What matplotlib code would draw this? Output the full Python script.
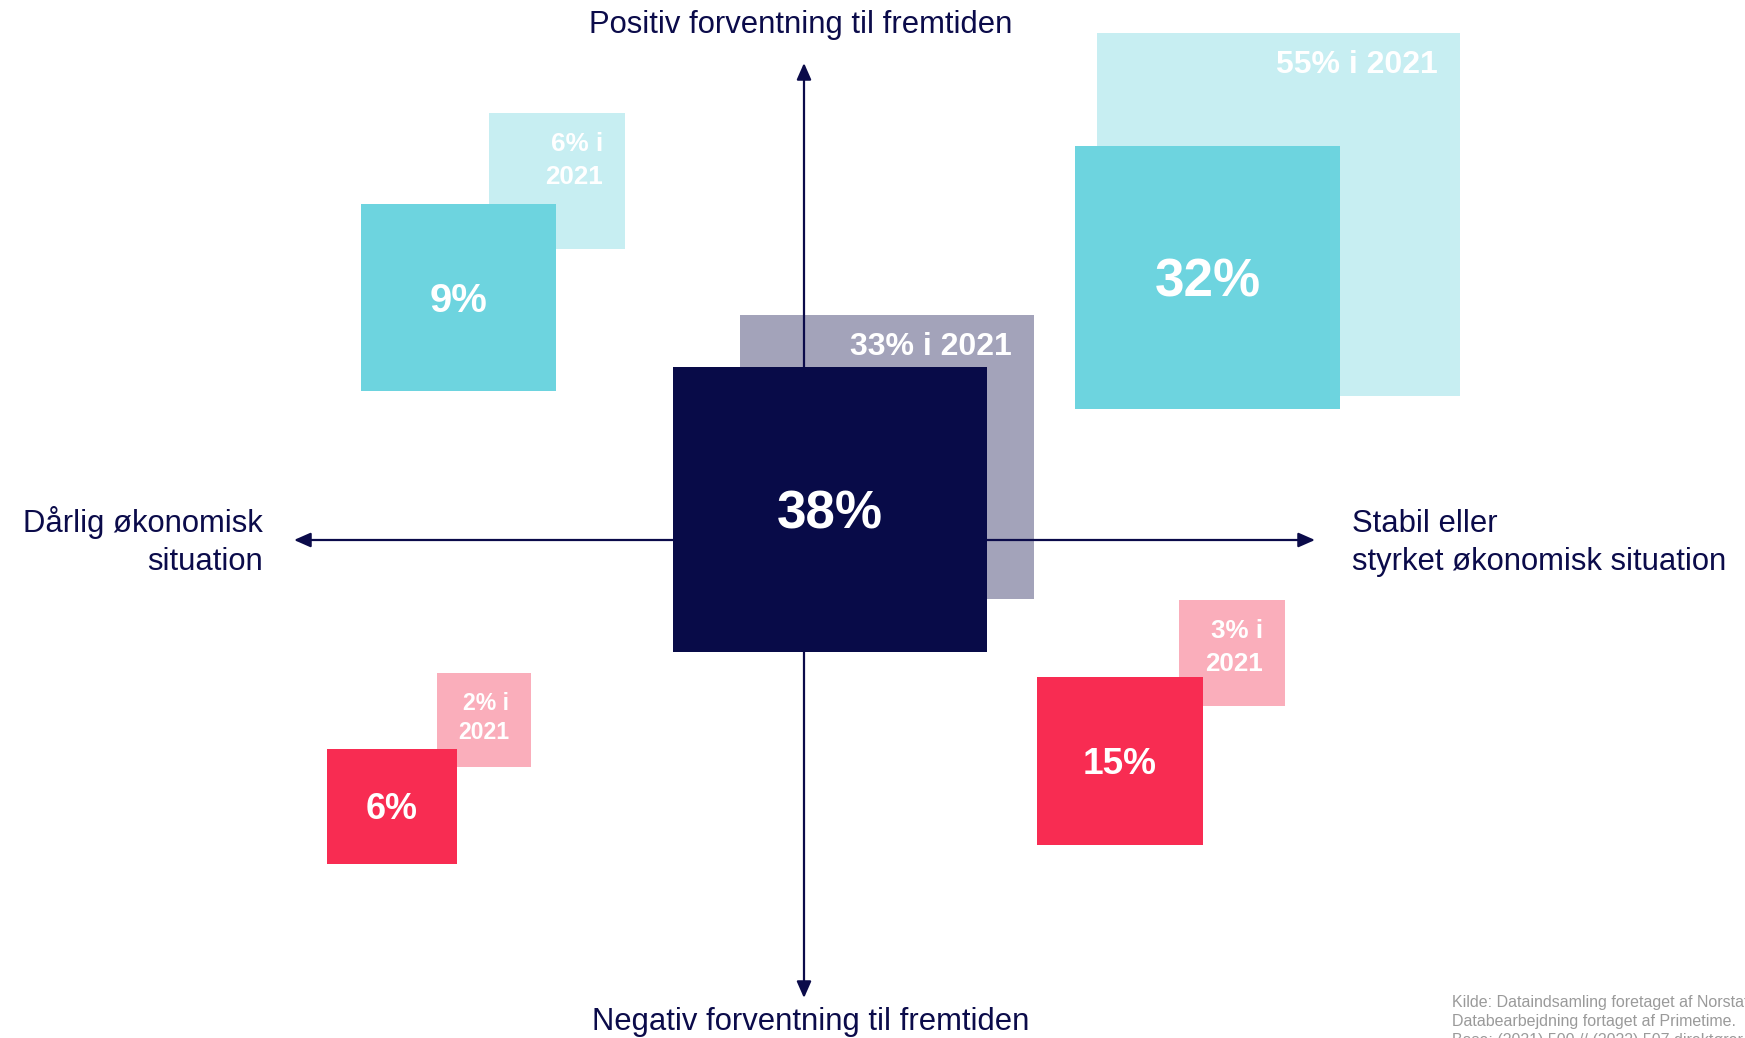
import matplotlib
matplotlib.use("Agg")
import matplotlib.pyplot as plt
from matplotlib.patches import Rectangle, FancyArrowPatch

plt.rcParams['font.family'] = ['Liberation Sans', 'DejaVu Sans']

# ---------------- data ----------------
quadrants = ["Midten", "Positiv / stabil", "Positiv / dårlig", "Negativ / dårlig", "Negativ / stabil"]
values_2022 = [38, 32, 9, 6, 15]
values_2021 = [33, 55, 6, 2, 3]
label_year = "2021"
axis_top = "Positiv forventning til fremtiden"
axis_bottom = "Negativ forventning til fremtiden"
axis_left = "Dårlig økonomisk\nsituation"
axis_right = "Stabil eller\nstyrket økonomisk situation"
source_lines = [
    "Kilde: Dataindsamling foretaget af Norstat.",
    "Databearbejdning fortaget af Primetime.",
    "Base: (2021) 500 // (2022) 507 direktører",
]

# ---------------- layout (pixel coordinates, y downward) ----------------
W, H = 1745, 1038
rect_2022 = [(673, 367, 314, 285), (1075, 146, 265, 263), (361, 204, 195, 187),
             (327, 749, 130, 115), (1037, 677, 166, 168)]
rect_2021 = [(740, 315, 294, 284), (1097, 33, 363, 363), (489, 113, 136, 136),
             (437, 673, 94, 94), (1179, 600, 106, 106)]
col_2022 = ["#080B48", "#6DD4DF", "#6DD4DF", "#F82C52", "#F82C52"]
col_2021 = ["#A3A3BA", "#C7EEF2", "#C7EEF2", "#FAAEBB", "#FAAEBB"]
fs_2022 = [53, 53, 40, 36, 37]          # font size in px
fs_2021 = [32, 32, 26, 23, 26]          # font size in px
two_line = [False, False, True, True, True]
navy = "#0B0B4A"
px = 0.72  # px -> pt at dpi 100
cap = 0.716

fig = plt.figure(figsize=(W / 100, H / 100), dpi=100)
ax = fig.add_axes([0, 0, 1, 1])
ax.set_xlim(0, W)
ax.set_ylim(H, 0)
ax.axis("off")

# 2021 boxes (behind)
for (x, y, w, h), c, v, f, tl in zip(rect_2021, col_2021, values_2021, fs_2021, two_line):
    ax.add_patch(Rectangle((x, y), w, h, facecolor=c, edgecolor="none", zorder=1))
    rx = x + w - 22
    if tl:
        lines = [f"{v}% i", label_year]
        gap = f * 1.25
    else:
        lines = [f"{v}% i {label_year}"]
        gap = 0
    for i, ln in enumerate(lines):
        cy = y + 29 + i * gap
        ax.text(rx, cy + cap * f / 2, ln, ha="right", va="baseline", color="white",
                fontsize=f * px, fontweight="bold", zorder=5)

# axes arrows
arrow_kw = dict(arrowstyle="<|-|>,head_length=0.5,head_width=0.22", mutation_scale=20,
                color=navy, lw=1.6, shrinkA=0, shrinkB=0, zorder=2)
ax.add_patch(FancyArrowPatch((804, 63), (804, 998), **arrow_kw))
ax.add_patch(FancyArrowPatch((294, 540), (1315, 540), **arrow_kw))

# 2022 boxes (front)
for (x, y, w, h), c, v, f in zip(rect_2022, col_2022, values_2022, fs_2022):
    ax.add_patch(Rectangle((x, y), w, h, facecolor=c, edgecolor="none", zorder=3))
    ax.text(x + w / 2, y + h / 2 + cap * f / 2, f"{v}%", ha="center", va="baseline",
            color="white", fontsize=f * px, fontweight="bold", zorder=5)

# axis labels
lab_fs = 31 * px
ax.text(801, 33, axis_top, ha="center", va="baseline", color=navy, fontsize=lab_fs)
ax.text(811, 1030, axis_bottom, ha="center", va="baseline", color=navy, fontsize=lab_fs)
for i, ln in enumerate(axis_left.split("\n")):
    ax.text(263, 532 + 38 * i, ln, ha="right", va="baseline", color=navy, fontsize=lab_fs)
for i, ln in enumerate(axis_right.split("\n")):
    ax.text(1352, 532 + 38 * i, ln, ha="left", va="baseline", color=navy, fontsize=lab_fs)

# source (runs off the slide edge as in the original)
for i, ln in enumerate(source_lines):
    ax.text(1452, 1007 + 19 * i, ln, ha="left", va="baseline", color="#9A9A9A",
            fontsize=16 * px)

fig.savefig("out.png", dpi=100)
